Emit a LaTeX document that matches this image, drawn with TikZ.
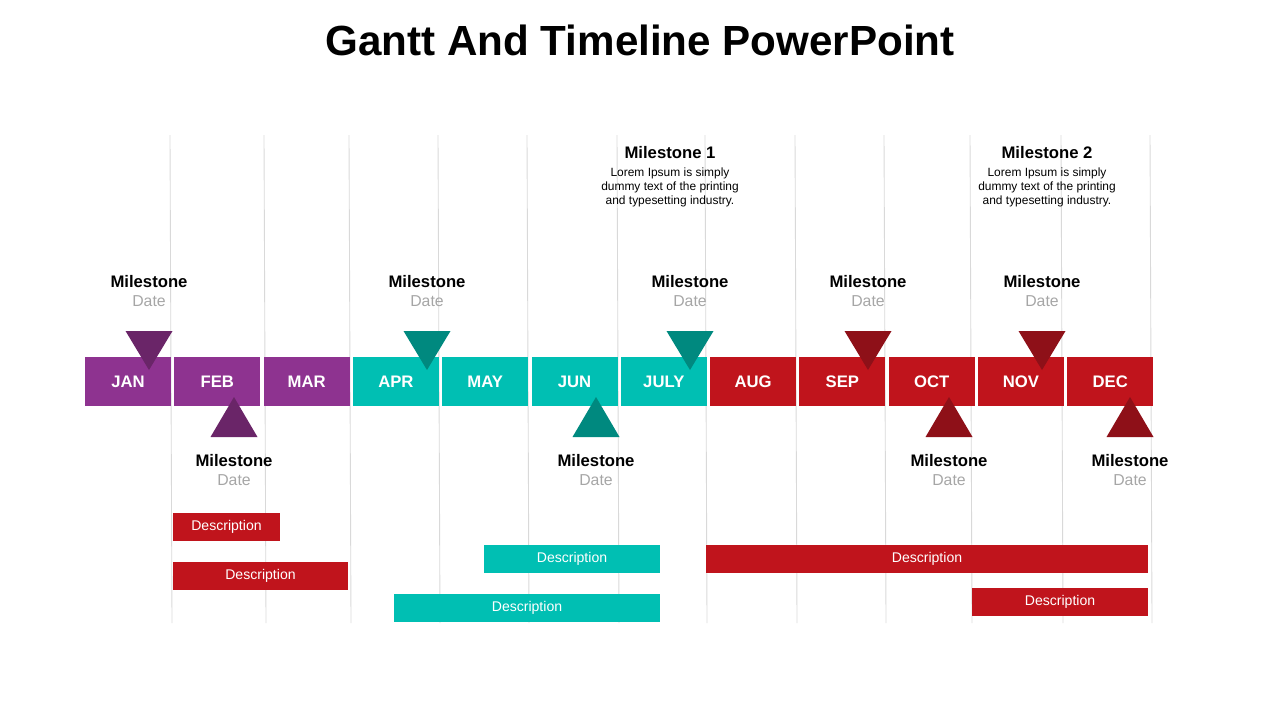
\documentclass[tikz,border=0pt]{standalone}
\usepackage{fontspec}
\setmainfont{Liberation Sans}
\definecolor{pur}{HTML}{8E3390}
\definecolor{purd}{HTML}{6A2568}
\definecolor{tea}{HTML}{00BFB3}
\definecolor{tead}{HTML}{00897F}
\definecolor{red1}{HTML}{C0141C}
\definecolor{redd}{HTML}{8E1018}
\begin{document}
\begin{tikzpicture}[x=0.02cm,y=-0.02cm,
  month/.style={fill=#1,draw=none,minimum width=1.72cm,minimum height=0.98cm,text=white,font=\fontsize{9.5}{11}\selectfont\bfseries,inner sep=0},
  desc/.style={fill=#1,draw=none,text=white,font=\fontsize{8}{10}\selectfont,inner sep=0},
  ms/.style={font=\fontsize{9.5}{11}\selectfont\bfseries,align=center},
  dt/.style={font=\fontsize{9}{11}\selectfont,text=gray!70},
  small/.style={font=\fontsize{6.8}{8}\selectfont,align=center},
  vl/.style={draw=gray!30,line width=0.5pt}]
\useasboundingbox (0,0) rectangle (1280,720);
\node[font=\fontsize{24}{28}\selectfont\bfseries] (title) at (640,40) {Gantt And Timeline PowerPoint};
% vertical lines
\foreach \x/\y in {170/172,264/266,349/351,438/440,527/529,617/619,705/707,795/797,884/886,970/972,1061/1063,1150/1152}
  \draw[vl] (\x,135) -- (\y,623);
% months
\foreach \n/\c/\t [count=\i from 0] in {jan/pur/JAN,feb/pur/FEB,mar/pur/MAR,apr/tea/APR,may/tea/MAY,jun/tea/JUN,jul/tea/JULY,aug/red1/AUG,sep/red1/SEP,oct/red1/OCT,nov/red1/NOV,dec/red1/DEC}
  \node[month=\c] (\n) at ({128+\i*89.3},381.5) {\t};
% down triangles
\foreach \x/\c/\n in {149/purd/d1,427/tead/d2,690/tead/d3,868/redd/d4,1042/redd/d5}{
  \fill[\c] (\x-23.5,331) -- (\x+23.5,331) -- (\x,370) -- cycle;
  \node[ms] (\n m) at (\x,282) {Milestone};
  \node[dt] (\n d) at (\x,301) {Date};}
% up triangles
\foreach \x/\c/\n in {234/purd/u1,596/tead/u2,949/redd/u3,1130/redd/u4}{
  \fill[\c] (\x-23.5,437) -- (\x+23.5,437) -- (\x,397) -- cycle;
  \node[ms] (\n m) at (\x,461) {Milestone};
  \node[dt] (\n d) at (\x,480) {Date};}
% big milestones
\node[ms] (m1) at (670,153) {Milestone 1};
\node[small] (m1t) at (670,187) {Lorem Ipsum is simply\\dummy text of the printing\\and typesetting industry.};
\node[ms] (m2) at (1047,153) {Milestone 2};
\node[small] (m2t) at (1047,187) {Lorem Ipsum is simply\\dummy text of the printing\\and typesetting industry.};
% descriptions
\foreach \a/\b/\c/\d/\col/\n in {173/513/280/541/red1/e1,173/562/348/590/red1/e2,484/545/660/573/tea/e3,394/594/660/622/tea/e4,706/545/1148/573/red1/e5,972/588/1148/616/red1/e6}{
  \fill[\col] (\a,\b) rectangle (\c,\d);
  \node[desc=\col,fill=none] (\n) at ({(\a+\c)/2},{(\b+\d)/2}) {Description};}
\end{tikzpicture}
\end{document}
